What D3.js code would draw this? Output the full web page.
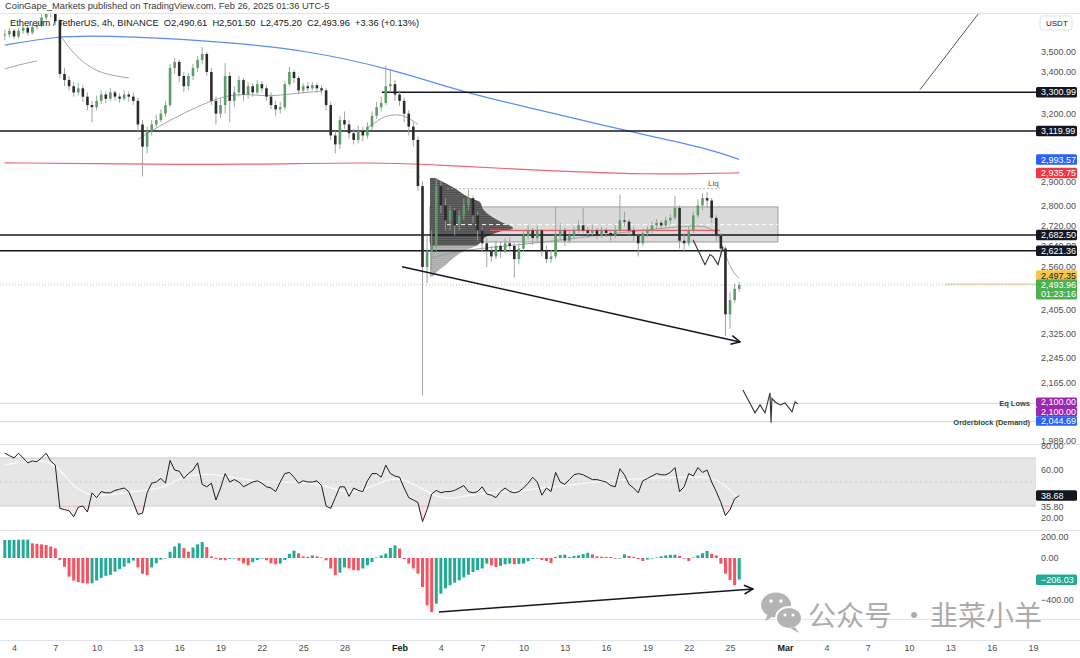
<!DOCTYPE html>
<html><head><meta charset="utf-8">
<script src="https://cdn.jsdelivr.net/npm/d3@7"></script>
<style>body{margin:0;background:#fff;} text{font-family:"Liberation Sans",Arial,sans-serif;}</style>
</head><body>
<svg id="c" width="1080" height="658"></svg>
<script>
// ---------------- DATA ----------------
const candleStart = "2025-01-03T08:00:00Z"; // first 8h candle
const firstOpen = 3585;
const closes = [3590,3610,3580,3610,3625,3600,3630,3640,3680,3720,
3700,3660,3390,3360,3330,3300,3320,3280,3240,3230,
3260,3290,3270,3300,3280,3270,3290,3280,3260,3150,
3050,3120,3150,3170,3200,3240,3420,3450,3380,3330,
3380,3420,3460,3490,3400,3260,3200,3240,3380,3260,
3300,3360,3290,3330,3300,3340,3320,3280,3240,3220,
3230,3340,3400,3370,3310,3330,3320,3335,3320,3310,
3240,3100,3060,3170,3150,3110,3080,3120,3100,3140,
3190,3230,3250,3330,3340,3290,3260,3200,3140,3080,
2880,2560,2620,2640,2880,2800,2740,2780,2720,2760,
2800,2830,2760,2700,2650,2620,2600,2640,2620,2650,
2640,2590,2630,2680,2700,2670,2700,2620,2590,2600,
2680,2700,2660,2680,2700,2720,2700,2690,2700,2680,
2700,2690,2680,2700,2740,2735,2700,2680,2650,2690,
2700,2720,2730,2720,2740,2750,2790,2660,2650,2700,
2760,2800,2830,2820,2750,2680,2630,2390,2440,2480,
2493.96];
const highs = [3615,3625,3620,3625,3640,3635,3645,3660,3700,3745,
3740,3715,3675,3420,3380,3350,3345,3335,3300,3260,
3285,3310,3305,3320,3310,3295,3310,3305,3300,3275,
3170,3140,3170,3195,3220,3260,3440,3470,3460,3400,
3395,3440,3480,3525,3500,3420,3280,3270,3445,3400,
3330,3380,3370,3350,3345,3360,3355,3335,3300,3260,
3255,3355,3425,3410,3380,3345,3350,3350,3345,3335,
3320,3255,3120,3190,3210,3170,3130,3145,3140,3160,
3210,3255,3280,3430,3410,3360,3310,3275,3215,3160,
3095,2900,2680,2700,2915,2900,2830,2800,2790,2780,
2830,2865,2840,2775,2715,2670,2640,2660,2655,2670,
2675,2650,2650,2700,2720,2710,2720,2705,2640,2625,
2795,2730,2710,2700,2715,2740,2790,2715,2720,2710,
2715,2710,2700,2720,2845,2775,2745,2715,2690,2705,
2715,2735,2745,2740,2755,2765,2840,2800,2690,2715,
2775,2825,2850,2855,2830,2760,2690,2640,2470,2500,
2505];
const lows = [3560,3575,3565,3570,3595,3585,3590,3615,3630,3665,
3680,3640,3370,3330,3310,3280,3285,3255,3215,3160,
3215,3245,3250,3260,3260,3250,3260,3255,3240,3120,
2920,3020,3100,3135,3160,3185,3230,3390,3350,3300,
3310,3360,3400,3440,3380,3240,3150,3180,3200,3160,
3230,3280,3260,3270,3280,3290,3300,3260,3220,3190,
3200,3215,3330,3345,3290,3295,3305,3310,3300,3290,
3215,3080,3020,3040,3130,3085,3060,3065,3075,3085,
3125,3175,3210,3240,3300,3260,3235,3160,3100,3050,
2860,2125,2500,2550,2620,2770,2700,2700,2680,2700,
2740,2780,2730,2660,2620,2560,2580,2590,2595,2610,
2620,2520,2570,2620,2665,2645,2655,2600,2575,2575,
2590,2660,2640,2650,2665,2690,2690,2670,2680,2665,
2670,2675,2660,2670,2690,2715,2680,2660,2600,2640,
2675,2690,2705,2705,2710,2725,2740,2630,2620,2640,
2690,2750,2780,2790,2730,2660,2600,2315,2340,2430,
2470];
const rsiValues = [74,72,70,74,70,66,67.5,67,70,74,
67.5,64,28,27,26,21,29,30,25,41,
37,42,41,41,43,44,45,42,33,23,
24,41,49,50,53,49,68,60,59,53,
57,60,66,48,46,49,35,45,57,50,
52,50,46,48,50,51,49,46,45,42,
50,57,58,54,49,51,50,50,51,47,
30,28,37,46,46,38,45,43,42,51,
57,57,54,64,57,55,54,45,37,35,
33,17,27,40,43,41,42,42,43,45,
47,42,41,42,46,40,39,37,42,45,
42,41,42,45,49,54,50,39,45,42,
58,50,48,52,56,57,56,54,52,52,
51,50,47,46,61,56,48,45,41,51,
53,55,57,56,56,58,62,42,46,57,
55,62,58,60,50,42,33,22,27,36,
38.68];
const macdHist = [171,172,172,174,175,175,140,135,130,124,
110,92,-20,-83,-178,-215,-230,-241,-243,-241,
-215,-190,-170,-160,-130,-105,-83,-50,-25,-90,
-150,-162,-90,-50,-16,-5,60,110,140,95,
60,100,130,152,105,15,-10,-18,-22,-8,
-6,-25,-50,-70,-40,-20,-6,-22,-50,-60,
-54,-20,40,70,45,15,12,25,15,5,
-22,-100,-162,-140,-90,-100,-115,-117,-100,-70,
-38,5,25,41,95,121,90,-10,-54,-100,
-149,-276,-451,-514,-435,-340,-290,-260,-235,-213,
-185,-160,-133,-115,-100,-54,-70,-86,-75,-60,
-54,-60,-56,-54,-30,-10,-6,-20,-29,-48,
10,28,32,10,20,25,38,50,35,16,
12,10,10,-6,-6,35,20,10,-10,-29,
-15,-6,5,16,25,30,32,20,-6,-29,
5,25,45,67,40,25,-54,-149,-210,-260,
-206.03];
// [candle index, value]
const rsiMA = [[0,64],[6,69],[11,66],[14,50],[18,37],[24,40],[30,43],[35,45],[38,54],[44,58],[52,52],[59,49],[66,51],[72,44],[76,40],[81,48],[85,55],[90,47],[94,37],[98,36],[104,41],[111,42],[120,46],[132,52],[147,54],[154,55],[157,47],[160,35.8]];
const emaBlue = [[0,3535],[11,3580],[21,3585],[44,3560],[66,3510],[85,3410],[100,3300],[116,3219],[128,3158],[141,3095],[154,3037],[160,2993.57]];
const emaRed = [[0,2979],[25,2975],[51,2970],[81,2983],[97,2967],[112,2951],[125,2940],[140,2930],[151,2933],[160,2935.75]];
const vwapSegments = [
  [[0,3415],[3,3435],[7,3455]],
  [[12,3590],[14,3520],[16,3470],[20,3395],[27,3370]],
  [[29,3082],[35,3160],[43,3245],[50,3300],[57,3280],[61,3290],[68,3305],[69,3305]],
  [[79,3135],[82,3180],[84,3195],[87,3195],[90,3150]],
  [[93,2595],[100,2626],[111,2641],[125,2672],[140,2703],[147,2715],[154,2723],[156,2660],[157,2600],[159,2530],[160,2520]]
];
const levelPrices = [3300.99, 3119.99, 2682.50, 2621.36];
const levelStarts = ["2025-01-30T17:00:00Z", null, null, null];
const eqLows = 2100.00, orderBlock = 2044.69;
const zone = {from:"2025-02-03T05:00:00Z", to:"2025-02-28T11:30:00Z", top:2794, bottom:2655};
const pocLine = {from:"2025-02-07T13:40:00Z", to:"2025-02-24T06:30:00Z", price:2700};
const vahLine = {from:"2025-02-04T10:50:00Z", to:"2025-02-28T11:30:00Z", price:2723};
const liqLine = {from:"2025-02-04T10:50:00Z", to:"2025-02-24T06:30:00Z", price:2869};
const vpAnchor = "2025-02-03T05:00:00Z";
const vpPrices = [2914,2865,2837,2813,2786,2759,2735,2708,2696,2677,2642,2619,2592,2566,2543,2525];
const vpVolumes = [5,27,37,50,53,60,70,83,70,57,47,33,23,15,7,3];
const projMid = [["2025-02-22T07:30:00Z",2664],["2025-02-23T04:20:00Z",2569],["2025-02-23T13:00:00Z",2607],["2025-02-23T18:20:00Z",2599],["2025-02-24T03:00:00Z",2569],["2025-02-24T11:45:00Z",2637]];
const projLow = [["2025-02-25T22:30:00Z",2141],["2025-02-26T19:30:00Z",2071],["2025-02-27T04:20:00Z",2095],["2025-02-27T13:00:00Z",2071],["2025-02-27T21:40:00Z",2132],["2025-02-27T23:30:00Z",2041],["2025-02-28T01:00:00Z",2115],["2025-02-28T06:30:00Z",2104],["2025-02-28T15:10:00Z",2095],["2025-02-28T23:50:00Z",2101],["2025-03-01T12:00:00Z",2074],["2025-03-01T17:15:00Z",2104],["2025-03-01T22:30:00Z",2098]];
const trendDown = [["2025-02-01T04:20:00Z",2561],["2025-02-25T17:20:00Z",2296]];
const trendUp = [["2025-03-10T19:00:00Z",3313],["2025-03-15T03:40:00Z",3712]];
const macdArrow = [["2025-02-03T20:40:00Z",-514],["2025-02-26T16:00:00Z",-295]];
const priceTicks = [3500,3400,3200,2900,2800,2720,2640,2560,2405,2325,2245,2165,1989];
const rsiTicks = [80,60,20];
const macdTicks = [200,0,-400];
const timeTickDates = ["2025-01-04","2025-01-07","2025-01-10","2025-01-13","2025-01-16","2025-01-19","2025-01-22","2025-01-25","2025-01-28","2025-02-01","2025-02-04","2025-02-07","2025-02-10","2025-02-13","2025-02-16","2025-02-19","2025-02-22","2025-02-25","2025-03-01","2025-03-04","2025-03-07","2025-03-10","2025-03-13","2025-03-16","2025-03-19"];
const timeTickLabels = ["4","7","10","13","16","19","22","25","28","Feb","4","7","10","13","16","19","22","25","Mar","4","7","10","13","16","19"];

// ---------------- SETUP ----------------
const svg = d3.select("#c");
const PR = 1036;
const STEP = 8*3600*1000;
const t0 = new Date(candleStart).getTime();
const tAt = i => new Date(t0 + i*STEP);
const D = s => new Date(s);

const x = d3.scaleUtc().domain([D("2025-01-04T00:00:00Z"), D("2025-03-19T00:00:00Z")]).range([14, 14+74*13.77]);
const y = d3.scaleLog().domain([3500,1989]).range([52,440.6]);
const yR = d3.scaleLinear().domain([20,60]).range([518,470]);
const yM = d3.scaleLinear().domain([-400,200]).range([600,537]);

const defs = svg.append("defs");
defs.append("clipPath").attr("id","cm").append("rect").attr("x",0).attr("y",14).attr("width",PR).attr("height",430);
defs.append("clipPath").attr("id","cr").append("rect").attr("x",0).attr("y",445).attr("width",PR).attr("height",84);
defs.append("clipPath").attr("id","cd").append("rect").attr("x",0).attr("y",531).attr("width",PR).attr("height",87);
defs.append("marker").attr("id","arr").attr("markerUnits","userSpaceOnUse").attr("viewBox","0 0 10 10")
  .attr("refX",9).attr("refY",5).attr("markerWidth",11).attr("markerHeight",11).attr("orient","auto")
  .append("path").attr("d","M1,1 L9,5 L1,9").attr("fill","none").attr("stroke","#131722").attr("stroke-width",1.4);

// header
svg.append("text").attr("x",5).attr("y",8.5).attr("font-size",9.3).attr("fill","#3a3a3a")
  .text("CoinGape_Markets published on TradingView.com, Feb 26, 2025 01:36 UTC-5");
svg.append("line").attr("x1",0).attr("x2",1080).attr("y1",13.5).attr("y2",13.5).attr("stroke","#e0e3eb");

// pane separators
[444,530,619,640].forEach(v=>svg.append("line").attr("x1",0).attr("x2",1080).attr("y1",v+0.5).attr("y2",v+0.5).attr("stroke","#e0e3eb"));

// ---------------- MAIN PANE ----------------
const gm = svg.append("g").attr("clip-path","url(#cm)");
const lineIdx = d3.line().x(d=>x(tAt(d[0]))).y(d=>y(d[1])).curve(d3.curveBasis);
const lineDP = d3.line().x(d=>x(D(d[0]))).y(d=>y(d[1]));

// eq lows / orderblock lines
gm.append("line").attr("x1",0).attr("x2",PR).attr("y1",y(eqLows)).attr("y2",y(eqLows)).attr("stroke","#e8c6ec").attr("stroke-width",1);
gm.append("line").attr("x1",0).attr("x2",PR).attr("y1",y(orderBlock)).attr("y2",y(orderBlock)).attr("stroke","#c5d6f7").attr("stroke-width",1);
// current price dotted line
gm.append("line").attr("x1",0).attr("x2",PR).attr("y1",y(closes[closes.length-1])).attr("y2",y(closes[closes.length-1]))
  .attr("stroke","#4caf50").attr("stroke-opacity",0.55).attr("stroke-dasharray","1,2");
gm.append("line").attr("x1",945).attr("x2",PR).attr("y1",y(2497.35)).attr("y2",y(2497.35)).attr("stroke","#d2c089").attr("stroke-width",1);

// zone rectangle
gm.append("rect").attr("x",x(D(zone.from))).attr("width",x(D(zone.to))-x(D(zone.from)))
  .attr("y",y(zone.top)).attr("height",y(zone.bottom)-y(zone.top))
  .attr("fill","rgba(150,150,150,0.35)").attr("stroke","#9e9e9e").attr("stroke-width",1);

// volume profile
const ax = x(D(vpAnchor));
const vpX = d3.scaleLinear().domain([0,83]).range([0,83]);
const vpData = vpPrices.map((p,i)=>({p, v:vpVolumes[i]}));
const vpArea = d3.area().y(d=>y(d.p)).x0(ax).x1(d=>ax+vpX(d.v)).curve(d3.curveMonotoneY);
gm.append("path").attr("d",vpArea(vpData)).attr("fill","#9c9c9c").attr("opacity",0.85);
defs.append("clipPath").attr("id","vpc").append("rect").attr("x",ax).attr("y",0).attr("width",120).attr("height",y(2642));
gm.append("g").attr("clip-path","url(#vpc)").append("path").attr("d",vpArea(vpData)).attr("fill","#3c3c3c").attr("opacity",0.85);
// stripes to look like rows
const stripeG = gm.append("g").attr("clip-path","url(#vpc2)");
defs.append("clipPath").attr("id","vpc2").append("path").attr("d",vpArea(vpData));
d3.range(y(2914), y(2525), 2.2).forEach(v=>stripeG.append("line").attr("x1",ax).attr("x2",ax+90).attr("y1",v).attr("y2",v).attr("stroke","#fff").attr("stroke-opacity",0.28).attr("stroke-width",0.6));

// dashed/dotted lines in zone
gm.append("line").attr("x1",x(D(vahLine.from))).attr("x2",x(D(vahLine.to))).attr("y1",y(vahLine.price)).attr("y2",y(vahLine.price))
  .attr("stroke","#ffffff").attr("stroke-dasharray","4,3").attr("stroke-width",1);
gm.append("line").attr("x1",x(D(liqLine.from))).attr("x2",x(D(liqLine.to))).attr("y1",y(liqLine.price)).attr("y2",y(liqLine.price))
  .attr("stroke","#a0a0a0").attr("stroke-dasharray","2,2").attr("stroke-width",0.8);
gm.append("text").attr("x",x(D(liqLine.to))-12).attr("y",y(liqLine.price)-3).attr("font-size",8).attr("fill","#555").text("Liq");

// MAs
gm.append("path").attr("d",lineIdx(emaBlue)).attr("fill","none").attr("stroke","#5b8def").attr("stroke-width",1.2);
gm.append("path").attr("d",lineIdx(emaRed)).attr("fill","none").attr("stroke","#f0626e").attr("stroke-width",1.2);
vwapSegments.forEach(s=>gm.append("path").attr("d",lineIdx(s)).attr("fill","none").attr("stroke","#9a9a9a").attr("stroke-width",0.9));

// horizontal levels
levelPrices.forEach((p,i)=>{
  const x1 = levelStarts[i] ? x(D(levelStarts[i])) : 0;
  gm.append("line").attr("x1",x1).attr("x2",PR).attr("y1",y(p)).attr("y2",y(p)).attr("stroke","#131722").attr("stroke-width",1.5);
});
// POC red line
gm.append("line").attr("x1",x(D(pocLine.from))).attr("x2",x(D(pocLine.to))).attr("y1",y(pocLine.price)).attr("y2",y(pocLine.price))
  .attr("stroke","#f05a64").attr("stroke-width",1.2);

// candles
const candles = closes.map((c,i)=>({t:tAt(i), o:i?closes[i-1]:firstOpen, h:highs[i], l:lows[i], c}));
const cg = gm.append("g");
cg.selectAll(".w").data(candles).join("line").attr("x1",d=>x(d.t)).attr("x2",d=>x(d.t))
  .attr("y1",d=>y(d.h)).attr("y2",d=>y(d.l)).attr("stroke","#9a9a9a").attr("stroke-width",0.9);
cg.selectAll(".b").data(candles).join("rect").attr("x",d=>x(d.t)-1.3).attr("width",2.6)
  .attr("y",d=>y(Math.max(d.o,d.c))).attr("height",d=>Math.max(1,Math.abs(y(d.o)-y(d.c))))
  .attr("fill",d=>d.c>=d.o?"#5e9c69":"#2b2b2b");

// drawings
gm.append("path").attr("d",lineDP(projMid)).attr("fill","none").attr("stroke","#333").attr("stroke-width",1.1);
gm.append("path").attr("d",lineDP(projLow)).attr("fill","none").attr("stroke","#333").attr("stroke-width",1.1);
gm.append("path").attr("d",lineDP(trendDown)).attr("fill","none").attr("stroke","#131722").attr("stroke-width",1.5).attr("marker-end","url(#arr)");
gm.append("path").attr("d",lineDP(trendUp)).attr("fill","none").attr("stroke","#555").attr("stroke-width",1);

// labels eq lows / orderblock
gm.append("text").attr("x",PR-6).attr("y",y(eqLows)+3).attr("text-anchor","end").attr("font-size",7.5).attr("font-weight","bold").attr("fill","#2d4a3e").text("Eq Lows");
gm.append("text").attr("x",PR-6).attr("y",y(orderBlock)+3).attr("text-anchor","end").attr("font-size",7.5).attr("font-weight","bold").attr("fill","#2d4a3e").text("Orderblock (Demand)");

// legend
svg.append("text").attr("x",10).attr("y",26).attr("font-size",9.3).attr("fill","#131722")
  .text("Ethereum / TetherUS, 4h, BINANCE  O2,490.61  H2,501.50  L2,475.20  C2,493.96  +3.36 (+0.13%)").attr("xml:space","preserve");
svg.append("rect").attr("x",1040).attr("y",16).attr("width",32).attr("height",14).attr("rx",3).attr("fill","#fff").attr("stroke","#e0e3eb");
svg.append("text").attr("x",1046).attr("y",26).attr("font-size",8).attr("fill","#131722").text("USDT");

// ---------------- RSI PANE ----------------
const gr = svg.append("g").attr("clip-path","url(#cr)");
gr.append("rect").attr("x",0).attr("width",PR).attr("y",yR(70)).attr("height",yR(30)-yR(70)).attr("fill","#e6e6e6");
[70,30].forEach(v=>gr.append("line").attr("x1",0).attr("x2",PR).attr("y1",yR(v)).attr("y2",yR(v)).attr("stroke","#cdcdcd"));
gr.append("line").attr("x1",0).attr("x2",PR).attr("y1",yR(50)).attr("y2",yR(50)).attr("stroke","#c8c8c8").attr("stroke-dasharray","2,3");
const rsiPts = rsiValues.map((v,i)=>({t:tAt(i), v}));
gr.append("path").attr("d",d3.area().x(d=>x(d.t)).y0(yR(30)).y1(d=>yR(Math.min(d.v,30)))(rsiPts)).attr("fill","rgba(242,54,69,0.13)");
gr.append("path").attr("d",d3.line().x(d=>x(tAt(d[0]))).y(d=>yR(d[1])).curve(d3.curveBasis)(rsiMA)).attr("fill","none").attr("stroke","#fafafa").attr("stroke-width",1.3);
gr.append("path").attr("d",d3.line().x(d=>x(d.t)).y(d=>yR(d.v))(rsiPts)).attr("fill","none").attr("stroke","#1e1e1e").attr("stroke-width",1);

// ---------------- MACD PANE ----------------
const gd = svg.append("g").attr("clip-path","url(#cd)");
const hist = macdHist.map((v,i)=>({t:tAt(i), v, up: i===0 ? true : v>=macdHist[i-1]}));
gd.selectAll("rect").data(hist).join("rect").attr("x",d=>x(d.t)-1.5).attr("width",3)
  .attr("y",d=>Math.min(yM(d.v),yM(0))).attr("height",d=>Math.max(0.5,Math.abs(yM(d.v)-yM(0))))
  .attr("fill",d=>d.up?"#22ab94":"#f7525f");
gd.append("path").attr("d",d3.line().x(d=>x(D(d[0]))).y(d=>yM(d[1]))(macdArrow)).attr("fill","none").attr("stroke","#131722").attr("stroke-width",1.5).attr("marker-end","url(#arr)");

// ---------------- AXES ----------------
const fmt = d3.format(",.2f");
const axTxt = g=>{g.select(".domain").remove(); g.selectAll("text").attr("font-size",9).attr("fill","#505050").attr("font-family","Liberation Sans, Arial, sans-serif");};
svg.append("g").attr("transform",`translate(${PR},0)`).call(d3.axisRight(y).tickValues(priceTicks).tickFormat(fmt).tickSize(0).tickPadding(5)).call(axTxt);
svg.append("g").attr("transform",`translate(${PR},0)`).call(d3.axisRight(yR).tickValues(rsiTicks).tickFormat(fmt).tickSize(0).tickPadding(5)).call(axTxt);
svg.append("text").attr("x",PR+5).attr("y",yR(35.8)+11).attr("font-size",9).attr("fill","#505050").text("35.80");
svg.append("g").attr("transform",`translate(${PR},0)`).call(d3.axisRight(yM).tickValues(macdTicks).tickFormat(d=>fmt(d).replace("-","\u2212")).tickSize(0).tickPadding(5)).call(axTxt);

const xa = svg.append("g").attr("transform","translate(0,645)")
  .call(d3.axisBottom(x).tickValues(timeTickDates.map(s=>D(s+"T00:00:00Z"))).tickFormat((d,i)=>timeTickLabels[i]).tickSize(0).tickPadding(0))
  .call(axTxt);
xa.selectAll("text").filter((d,i)=>isNaN(+timeTickLabels[i])).attr("font-weight","bold").attr("fill","#131722");

// badges
function badge(v, yy, txt, bg, fg, h){
  h = h||10.5;
  svg.append("rect").attr("x",PR).attr("y",yy-h/2).attr("width",41).attr("height",h).attr("rx",1.5).attr("fill",bg);
  svg.append("text").attr("x",PR+5).attr("y",yy+3.2).attr("font-size",9).attr("fill",fg).text(txt);
}
badge(0,y(3300.99),"3,300.99","#131722","#fff");
badge(0,y(3119.99),"3,119.99","#131722","#fff");
badge(0,y(2993.57),"2,993.57","#2962ff","#fff");
badge(0,y(2935.75),"2,935.75","#f23645","#fff");
badge(0,y(2682.50),"2,682.50","#131722","#fff");
badge(0,y(2621.36),"2,621.36","#131722","#fff");
badge(0,y(2497.35)-8.5,"2,497.35","#f7c548","#131722");
// green current price badge with countdown
svg.append("rect").attr("x",PR).attr("y",y(2493.96)-5.5).attr("width",41).attr("height",20).attr("rx",1.5).attr("fill","#4caf50");
svg.append("text").attr("x",PR+5).attr("y",y(2493.96)+3.2).attr("font-size",9).attr("fill","#fff").text("2,493.96");
svg.append("text").attr("x",PR+5).attr("y",y(2493.96)+12.2).attr("font-size",9).attr("fill","#fff").text("01:23:16");
badge(0,y(2100)-1,"2,100.00","#9c27b0","#fff",9.5);
badge(0,y(2100)+8.5,"2,100.00","#9c27b0","#fff",9.5);
badge(0,y(2044.69)-0.5,"2,044.69","#2962ff","#fff",9.5);
badge(0,yR(38.68),"38.68","#131722","#fff");
badge(0,yM(-206.03),"\u2212206.03","#22ab94","#fff");

// ---------------- WATERMARK ----------------
const wm = svg.append("g").attr("opacity",0.85);
wm.append("ellipse").attr("cx",776).attr("cy",605).attr("rx",15).attr("ry",12.5).attr("fill","#a8a8a8");
wm.append("path").attr("d","M768,614 L765,621 L774,616 Z").attr("fill","#a8a8a8");
wm.append("ellipse").attr("cx",789).attr("cy",618).attr("rx",13).attr("ry",11).attr("fill","#a8a8a8").attr("stroke","#fff").attr("stroke-width",2);
wm.append("path").attr("d","M795,627 L799,633 L790,628 Z").attr("fill","#a8a8a8");
[[771,601],[781,601]].forEach(p=>wm.append("circle").attr("cx",p[0]).attr("cy",p[1]).attr("r",1.8).attr("fill","#fff"));
[[785,615],[793,615]].forEach(p=>wm.append("circle").attr("cx",p[0]).attr("cy",p[1]).attr("r",1.6).attr("fill","#fff"));
const cjk = "'Noto Sans CJK SC', sans-serif";
wm.append("text").attr("x",808).attr("y",626).attr("font-size",28).attr("fill","#9e9e9e").style("font-family",cjk).text("公众号");
wm.append("text").attr("x",900).attr("y",626).attr("font-size",28).attr("fill","#9e9e9e").style("font-family",cjk).text("·");
wm.append("text").attr("x",930).attr("y",626).attr("font-size",28).attr("fill","#9e9e9e").style("font-family",cjk).text("韭菜小羊");
</script>
</body></html>
